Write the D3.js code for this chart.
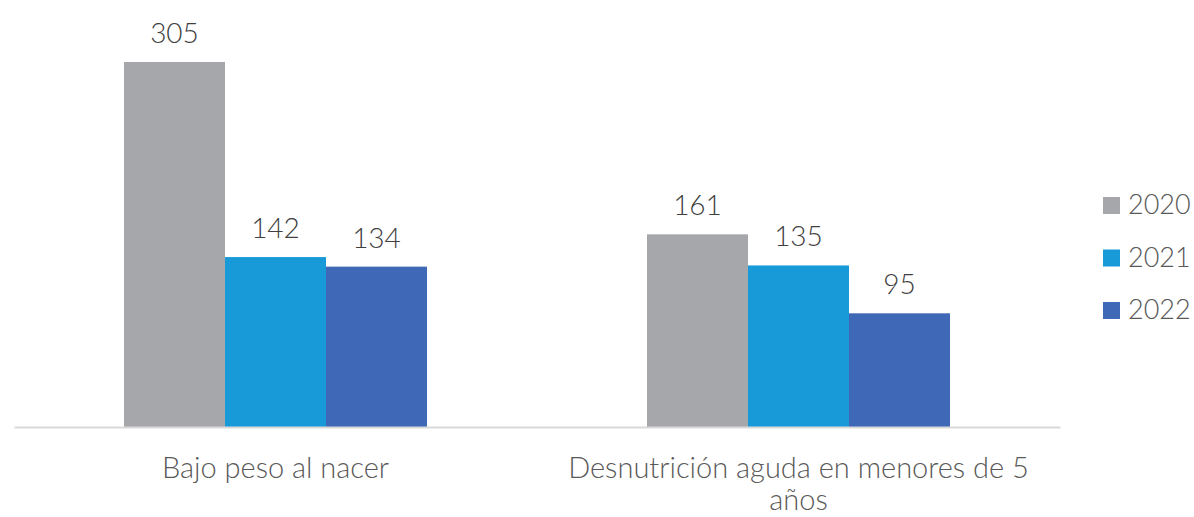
<!DOCTYPE html>
<html>
<head>
<meta charset="utf-8">
<script src="https://cdn.jsdelivr.net/npm/d3@7/dist/d3.min.js"></script>
<style>
  html, body { margin: 0; padding: 0; background: #ffffff; }
  svg { display: block; }
  text { font-family: Lato, "Open Sans", sans-serif; }
</style>
</head>
<body>
<svg id="chart" width="1194" height="517"></svg>
<script>
const categories = ["Bajo peso al nacer", "Desnutrición aguda en menores de 5 años"];
const seriesNames = ["2020", "2021", "2022"];
const values2020 = [305, 161];
const values2021 = [142, 135];
const values2022 = [134, 95];
const colors = ["#A6A7AB", "#179AD7", "#3F69B6"];

const seriesValues = [values2020, values2021, values2022];
const data = categories.map((c, i) => ({
  category: c,
  items: seriesNames.map((s, j) => ({ series: s, value: seriesValues[j][i] }))
}));

const svg = d3.select("#chart");
const plot = { left: 14, right: 1060, top: 62, bottom: 427 };

const x0 = d3.scaleBand().domain(categories).range([plot.left, plot.right]).padding(0);
const groupPad = 110;
const x1 = d3.scaleBand().domain(seriesNames).range([groupPad, x0.bandwidth() - groupPad]).padding(0);
const y = d3.scaleLinear().domain([0, 305]).range([plot.bottom, plot.top]);
const color = d3.scaleOrdinal().domain(seriesNames).range(colors);

const groups = svg.append("g").selectAll("g")
  .data(data).join("g")
  .attr("transform", d => `translate(${x0(d.category)},0)`);

groups.selectAll("rect")
  .data(d => d.items).join("rect")
  .attr("x", d => x1(d.series))
  .attr("width", x1.bandwidth())
  .attr("y", d => y(d.value))
  .attr("height", d => y(0) - y(d.value))
  .attr("fill", d => color(d.series));

groups.selectAll("text.val")
  .data(d => d.items).join("text")
  .attr("class", "val")
  .attr("x", d => x1(d.series) + x1.bandwidth() / 2)
  .attr("y", d => y(d.value) - 19)
  .attr("text-anchor", "middle")
  .attr("font-size", 28)
  .attr("font-weight", 300)
  .attr("fill", "#404040")
  .text(d => d.value);

// x axis
const xAxis = d3.axisBottom(x0).tickSize(0).tickPadding(0);
const axisG = svg.append("g").attr("transform", `translate(0,${plot.bottom})`).call(xAxis);
axisG.select(".domain").attr("stroke", "#D9D9D9").attr("stroke-width", 2);
axisG.selectAll(".tick text")
  .attr("font-size", 29)
  .attr("font-weight", 300)
  .attr("fill", "#595959")
  .attr("font-family", "Lato, 'Open Sans', sans-serif")
  .attr("dy", 0)
  .attr("y", 51)
  .call(wrap, x0.bandwidth() * 0.93);

function wrap(sel, width) {
  sel.each(function() {
    const t = d3.select(this);
    const words = t.text().split(/\s+/);
    const yv = t.attr("y");
    t.text(null);
    let line = [];
    let lineNo = 0;
    let tspan = t.append("tspan").attr("x", 0).attr("y", yv);
    for (const w of words) {
      line.push(w);
      tspan.text(line.join(" "));
      if (tspan.node().getComputedTextLength() > width && line.length > 1) {
        line.pop();
        tspan.text(line.join(" "));
        line = [w];
        lineNo++;
        tspan = t.append("tspan").attr("x", 0).attr("y", +yv + lineNo * 32).text(w);
      }
    }
  });
}

// legend
const legend = svg.append("g").attr("transform", "translate(1103,197)");
const li = legend.selectAll("g").data(seriesNames).join("g")
  .attr("transform", (d, i) => `translate(0,${i * 52.5})`);
li.append("rect").attr("width", 17).attr("height", 17).attr("fill", d => color(d));
li.append("text").attr("x", 25).attr("y", 17).attr("font-size", 27)
  .attr("font-weight", 300)
  .attr("fill", "#595959").text(d => d);
</script>
</body>
</html>
